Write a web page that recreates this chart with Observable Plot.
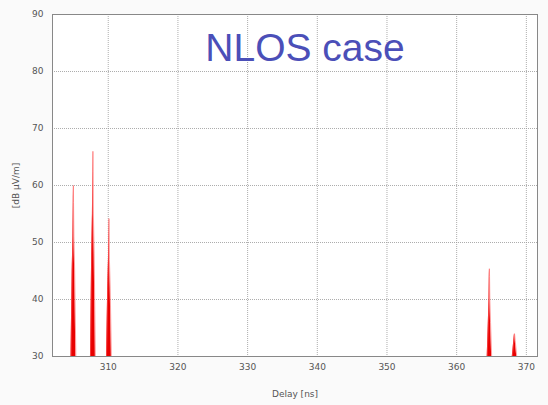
<!DOCTYPE html>
<html>
<head>
<meta charset="utf-8">
<script src="https://cdn.jsdelivr.net/npm/d3@7"></script>
<script src="https://cdn.jsdelivr.net/npm/@observablehq/plot@0.6"></script>
<style>
  html, body { margin: 0; padding: 0; background: #fafafa; }
  #wrap { position: relative; width: 548px; height: 405px; }
  #title { position: absolute; left: 0; width: 548px; top: 28px; text-align: center; padding-left: 62px; box-sizing: border-box;
    font-family: "Liberation Sans", Arial, sans-serif; font-size: 39px; color: #4b4fb8; line-height: 1; pointer-events: none; }
</style>
</head>
<body>
<div id="wrap"><div id="title">NLOS case</div></div>
<script>
// Sampled impulse response (values clipped at 30 dB floor)
const peak1Delay = [304.65, 304.82, 304.93, 304.98, 305.0, 305.02, 305.07, 305.18, 305.35];
const peak1Value = [30, 45, 51, 57, 60, 57, 51, 45, 30];
const peak2Delay = [307.45, 307.62, 307.73, 307.78, 307.8, 307.82, 307.87, 307.98, 308.15];
const peak2Value = [30, 48, 55, 62.5, 66, 62.5, 55, 48, 30];
const peak3Delay = [309.75, 309.92, 310.03, 310.08, 310.1, 310.12, 310.17, 310.28, 310.45];
const peak3Value = [30, 42, 47, 52, 54.2, 52, 47, 42, 30];
const peak4Delay = [364.38, 364.54, 364.64, 364.68, 364.7, 364.72, 364.76, 364.86, 365.02];
const peak4Value = [30, 36, 40, 44, 45.4, 44, 40, 36, 30];
const peak5Delay = [367.98, 368.1, 368.2, 368.26, 368.3, 368.34, 368.4, 368.5, 368.62];
const peak5Value = [30, 31.5, 32.8, 33.6, 34, 33.6, 32.8, 31.5, 30];

const xTicks = [310, 320, 330, 340, 350, 360, 370];
const yTicks = [30, 40, 50, 60, 70, 80, 90];
const xDomain = [302, 371.6];
const yDomain = [30, 90];

const peaks = [
  [peak1Delay, peak1Value], [peak2Delay, peak2Value], [peak3Delay, peak3Value],
  [peak4Delay, peak4Value], [peak5Delay, peak5Value]
];
const data = peaks.flatMap(([ds, vs], k) => ds.map((d, i) => ({peak: k, delay: d, value: vs[i]})));

const font = '"DejaVu Sans", Verdana, sans-serif';
const chart = Plot.plot({
  width: 548, height: 405,
  marginLeft: 52, marginRight: 11, marginTop: 14, marginBottom: 49,
  style: {fontFamily: font, fontSize: "9px", color: "#555", background: "transparent"},
  x: {domain: xDomain, ticks: xTicks, tickSize: 0, tickPadding: 7, label: "Delay [ns]", labelArrow: "none", labelAnchor: "center", labelOffset: 40},
  y: {domain: yDomain, ticks: yTicks, tickSize: 0, tickPadding: 9, label: "[dB µV/m]", labelArrow: "none", labelAnchor: "center", labelOffset: 40},
  marks: [
    Plot.frame({fill: "white"}),
    Plot.gridX(xTicks, {stroke: "#999", strokeOpacity: 0.8, strokeDasharray: "1,1"}),
    Plot.gridY(yTicks.slice(1, -1), {stroke: "#999", strokeOpacity: 0.8, strokeDasharray: "1,1"}),
    Plot.areaY(data, {x: "delay", y1: 30, y2: "value", z: "peak", fill: "#e80000", curve: "linear"}),
    Plot.line(data, {x: "delay", y: "value", z: "peak", stroke: "#ff6060", strokeWidth: 0.6}),
    Plot.frame({stroke: "#888", strokeWidth: 1})
  ]
});
chart.style.position = "absolute";
chart.style.left = "0"; chart.style.top = "0";
const wrap = document.getElementById("wrap");
wrap.insertBefore(chart, wrap.firstChild);
</script>
</body>
</html>
